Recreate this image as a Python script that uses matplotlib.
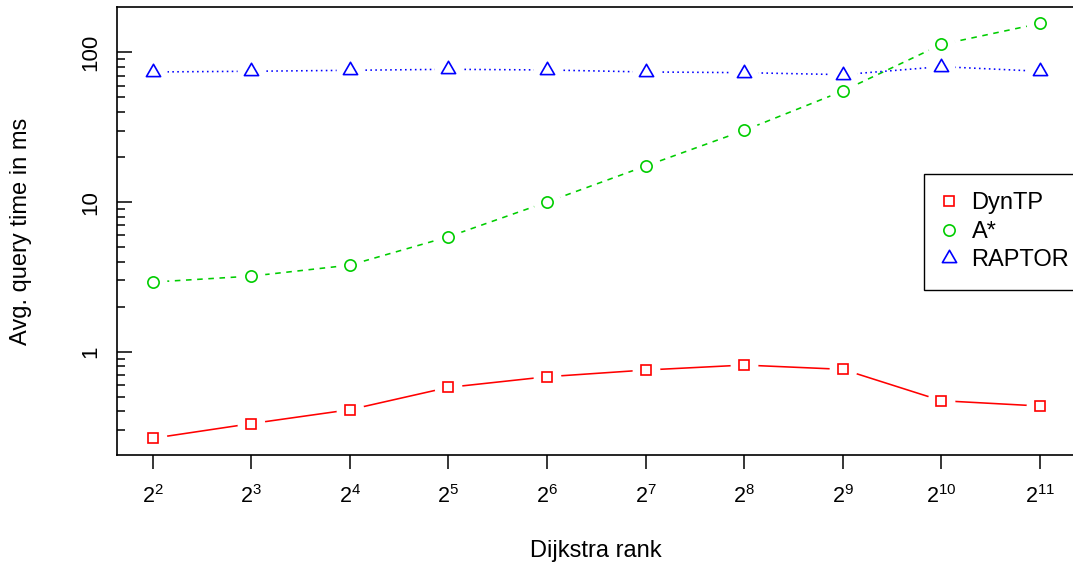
import numpy as np
import matplotlib.pyplot as plt
from matplotlib.path import Path
from matplotlib.ticker import FixedLocator, NullFormatter, NullLocator

plt.rcParams['font.family'] = 'Liberation Sans'
plt.rcParams['mathtext.fontset'] = 'custom'
plt.rcParams['mathtext.rm'] = 'Liberation Sans'
plt.rcParams['mathtext.it'] = 'Liberation Sans:italic'
plt.rcParams['mathtext.default'] = 'regular'

# dijkstra rank as powers of two
rank_exp = [2, 3, 4, 5, 6, 7, 8, 9, 10, 11]
rank = [2 ** e for e in rank_exp]

# avg query time in ms
dyntp = [0.264, 0.331, 0.410, 0.578, 0.681, 0.755, 0.815, 0.763, 0.471, 0.434]
astar = [2.92, 3.20, 3.79, 5.86, 10.0, 17.4, 30.1, 55.2, 113, 156]
raptor = [74.0, 74.8, 75.9, 77.1, 76.3, 74.0, 73.2, 71.0, 80.3, 74.8]

series_names = ['DynTP', 'A*', 'RAPTOR']

# R style triangle, centroid on the point
tri = Path([(0, 1), (0.866, -0.5), (-0.866, -0.5), (0, 1)],
           [Path.MOVETO, Path.LINETO, Path.LINETO, Path.CLOSEPOLY])

styles = [
    dict(color='#FF0000', ls='-', marker='s', ms=7.8),
    dict(color='#00CD00', ls=(0, (3.5, 3.5)), marker='o', ms=8.1),
    dict(color='#0000FF', ls=(0, (1, 2.1)), marker=tri, ms=11.8),
]

fig = plt.figure(figsize=(10.73, 5.69), dpi=100)
ax = fig.add_axes([117 / 1073, 1 - 455 / 569, 958.5 / 1073, 448 / 569])

handles = []
for vals, name, st in zip([dyntp, astar, raptor], series_names, styles):
    ax.plot(rank, vals, color=st['color'], ls=st['ls'], lw=1.15, zorder=2)
    # white disc gives the gap around points like type="b"
    ax.plot(rank, vals, ls='none', marker='o', ms=20, mfc='white', mec='none', zorder=2.1)
    h, = ax.plot(rank, vals, ls='none', marker=st['marker'], ms=st['ms'],
                 mfc='none', mec=st['color'], mew=1.2, label=name, zorder=2.3)
    handles.append(h)

ax.set_xscale('log', base=2)
ax.set_yscale('log')
ax.set_xlim(2 ** 1.64, 2 ** 11.36)
ax.set_ylim(0.2043, 201)

ax.set_xticks(rank)
ax.set_xticklabels([f'$2^{{{e}}}$' for e in rank_exp])
ax.xaxis.set_minor_locator(NullLocator())

ax.yaxis.set_major_locator(FixedLocator([1, 10, 100]))
ax.set_yticklabels(['1', '10', '100'])
minor_y = [0.3, 0.4, 0.5, 0.6, 0.7, 0.8, 0.9,
           2, 3, 4, 5, 6, 7, 8, 9,
           20, 30, 40, 50, 60, 70, 80, 90]
ax.yaxis.set_minor_locator(FixedLocator(minor_y))
ax.yaxis.set_minor_formatter(NullFormatter())

ax.tick_params(axis='x', which='major', direction='out', length=10, width=1.1,
               pad=12, labelsize=15.5)
ax.tick_params(axis='y', which='major', direction='in', length=11, width=1.1,
               pad=11, labelsize=16, labelrotation=90)
ax.tick_params(axis='y', which='minor', direction='in', length=5.8, width=1.1)
for lbl in ax.get_yticklabels():
    lbl.set_va('center')

for sp in ax.spines.values():
    sp.set_linewidth(1.2)

ax.set_xlabel('Dijkstra rank', fontsize=17)
ax.xaxis.set_label_coords(0.5, -0.19)
ax.set_ylabel('Avg. query time in ms', fontsize=17)
ax.yaxis.set_label_coords(-0.0887, 0.5)

leg = ax.legend(handles=handles, loc='upper left',
                bbox_to_anchor=(924 / 1073, 1 - 174 / 569),
                bbox_transform=fig.transFigure, fontsize=17,
                fancybox=False, edgecolor='black', framealpha=1,
                borderpad=0.78, handlelength=0.55, handletextpad=0.68,
                labelspacing=0.27, borderaxespad=0, numpoints=1)
leg.get_frame().set_linewidth(1.0)

fig.savefig('out.png', dpi=100)
